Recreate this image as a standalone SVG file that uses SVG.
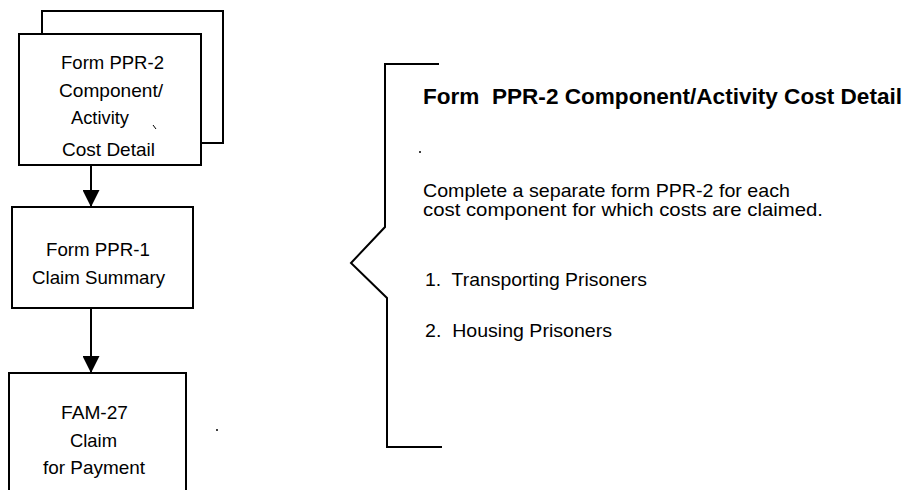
<svg xmlns="http://www.w3.org/2000/svg" width="910" height="490" viewBox="0 0 910 490">
<defs>
<style>
.box{fill:#fff;stroke:#000;stroke-width:2}
.ln{fill:none;stroke:#000;stroke-width:2}
.t{font-family:"Liberation Sans",Arial,sans-serif;font-size:19px;fill:#000}
.b{font-family:"Liberation Sans",Arial,sans-serif;font-size:22px;font-weight:bold;fill:#000}
</style>
<marker id="ah" viewBox="0 0 18 17" refX="17" refY="8.5" markerWidth="18" markerHeight="17" markerUnits="userSpaceOnUse" orient="auto">
<path d="M0,0 L17,8.5 L0,17 Z" fill="#000"/>
</marker>
</defs>
<rect width="910" height="490" fill="#fff"/>
<g id="node-ppr2">
<rect class="box" x="42" y="11" width="181" height="132"/>
<rect class="box" x="19" y="34" width="182" height="131"/>
<text class="t" x="61" y="69" textLength="103" lengthAdjust="spacingAndGlyphs">Form PPR-2</text>
<text class="t" x="59" y="97" textLength="104" lengthAdjust="spacingAndGlyphs">Component/</text>
<text class="t" x="71" y="124" textLength="58" lengthAdjust="spacingAndGlyphs">Activity</text>
<text class="t" x="62" y="156" textLength="93" lengthAdjust="spacingAndGlyphs">Cost Detail</text>
<path d="M153,125 L156,129" stroke="#000" stroke-width="1"/>
</g>
<g id="node-ppr1">
<rect class="box" x="12" y="207" width="181" height="101"/>
<text class="t" x="46" y="256" textLength="104" lengthAdjust="spacingAndGlyphs">Form PPR-1</text>
<text class="t" x="32" y="284" textLength="133" lengthAdjust="spacingAndGlyphs">Claim Summary</text>
</g>
<g id="node-fam27">
<path class="ln" d="M9,491 L9,373 L186,373 L186,491"/>
<text class="t" x="61" y="419" textLength="67" lengthAdjust="spacingAndGlyphs">FAM-27</text>
<text class="t" x="70" y="447" textLength="47" lengthAdjust="spacingAndGlyphs">Claim</text>
<text class="t" x="43" y="474" textLength="102" lengthAdjust="spacingAndGlyphs">for Payment</text>
</g>
<g id="connectors">
<line class="ln" x1="91" y1="165" x2="91" y2="207" marker-end="url(#ah)"/>
<line class="ln" x1="91" y1="308" x2="91" y2="373" marker-end="url(#ah)"/>
</g>
<g id="bracket">
<path class="ln" d="M439,64 L385,64 L385,227 L351,263 L387,298 L387,447 L442,447"/>
</g>
<g id="description">
<text class="b" x="423" y="104" textLength="479" lengthAdjust="spacingAndGlyphs">Form&#160; PPR-2 Component/Activity Cost Detail</text>
<circle cx="420" cy="152" r="1" fill="#000"/>
<text class="t" x="423" y="197" textLength="367" lengthAdjust="spacingAndGlyphs">Complete a separate form PPR-2 for each</text>
<text class="t" x="423" y="216" textLength="400" lengthAdjust="spacingAndGlyphs">cost component for which costs are claimed.</text>
<text class="t" x="425" y="286" textLength="222" lengthAdjust="spacingAndGlyphs">1.&#160; Transporting Prisoners</text>
<text class="t" x="425" y="337" textLength="187" lengthAdjust="spacingAndGlyphs">2.&#160; Housing Prisoners</text>
</g>
<circle cx="217" cy="430" r="1" fill="#000"/>
</svg>
